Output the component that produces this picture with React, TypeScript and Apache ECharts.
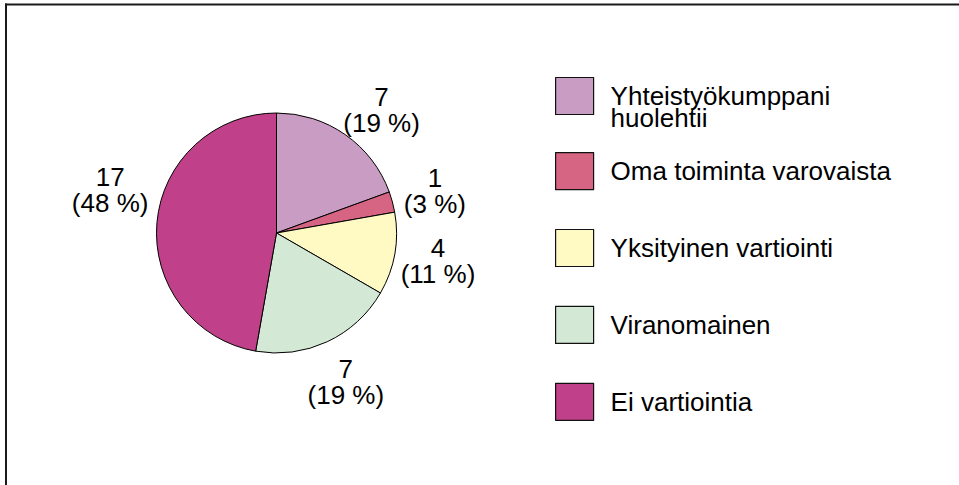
import React, { useEffect, useRef } from 'react';
import * as echarts from 'echarts';

const categories = [
  'Yhteistyökumppani\nhuolehtii',
  'Oma toiminta varovaista',
  'Yksityinen vartiointi',
  'Viranomainen',
  'Ei vartiointia',
];
const counts = [7, 1, 4, 7, 17];
const percentLabels = [19, 3, 11, 19, 48];
const colors = ['#C99CC4', '#D66483', '#FFF9C4', '#D4E8D6', '#C0408A'];

const FONT = '"Liberation Sans", Arial, Helvetica, sans-serif';

export default function App() {
  const ref = useRef<HTMLDivElement>(null);

  useEffect(() => {
    if (!ref.current) return;
    const chart = echarts.init(ref.current, undefined, { renderer: 'svg' });

    // small per-label nudges to mimic the reference label placement
    const labelNudge: Record<number, number[]> = {
      0: [11, 11],
      4: [-3, -29],
    };
    const LH = 26;

    const legendBase: any = {
      orient: 'vertical',
      left: 555,
      padding: 0,
      itemWidth: 38,
      itemHeight: 37,
      itemGap: 38.7,
      icon: 'rect',
      selectedMode: false,
      itemStyle: { borderColor: '#111', borderWidth: 1.2 },
    };
    const legendText = {
      fontFamily: FONT,
      fontSize: 26,
      color: '#000',
    };

    const option: any = {
      animation: false,
      backgroundColor: '#ffffff',
      textStyle: { fontFamily: FONT },
      graphic: [
        {
          type: 'line',
          shape: { x1: 5, y1: 4.5, x2: 959, y2: 4.5 },
          style: { stroke: '#1a1a1a', lineWidth: 2 },
          silent: true,
        },
        {
          type: 'line',
          shape: { x1: 6, y1: 3.5, x2: 6, y2: 485 },
          style: { stroke: '#1a1a1a', lineWidth: 2 },
          silent: true,
        },
      ],
      legend: [
        {
          ...legendBase,
          top: 61,
          // leading empty line: first text line sits on the swatch centre, second hangs below
          formatter: (name: string) => '\n' + name,
          textStyle: { ...legendText, lineHeight: 22, padding: [0, 0, 0, 12] },
          data: categories.slice(0, 1),
        },
        {
          ...legendBase,
          top: 152,
          textStyle: { ...legendText, lineHeight: LH, padding: [0, 0, 0, 12] },
          data: categories.slice(1),
        },
      ],
      series: [
        {
          type: 'pie',
          center: [276.5, 233],
          radius: 120,
          startAngle: 90,
          clockwise: true,
          avoidLabelOverlap: false,
          silent: true,
          itemStyle: { borderColor: '#000', borderWidth: 1 },
          label: {
            show: true,
            position: 'outside',
            alignTo: 'none',
            distanceToLabelLine: 0,
            fontFamily: FONT,
            fontSize: 26,
            lineHeight: LH,
            color: '#000',
            formatter: (p: any) => `${p.value}\n(${percentLabels[p.dataIndex]} %)`,
          },
          labelLine: { show: false, length: 44, length2: 0 },
          labelLayout: (p: any) => {
            const n = labelNudge[p.dataIndex] || [0, 0];
            return {
              x: (p.align === 'left' ? p.labelRect.x : p.labelRect.x + p.labelRect.width) + n[0],
              y: p.labelRect.y + p.labelRect.height / 2 + n[1],
              align: 'center',
              verticalAlign: 'middle',
            };
          },
          data: categories.map((name, i) => ({
            name,
            value: counts[i],
            itemStyle: { color: colors[i] },
          })),
        },
      ],
    };

    chart.setOption(option);
    return () => chart.dispose();
  }, []);

  return (
    <div
      ref={ref}
      style={{ position: 'fixed', left: 0, top: 0, width: 959, height: 485, background: '#fff' }}
    />
  );
}
